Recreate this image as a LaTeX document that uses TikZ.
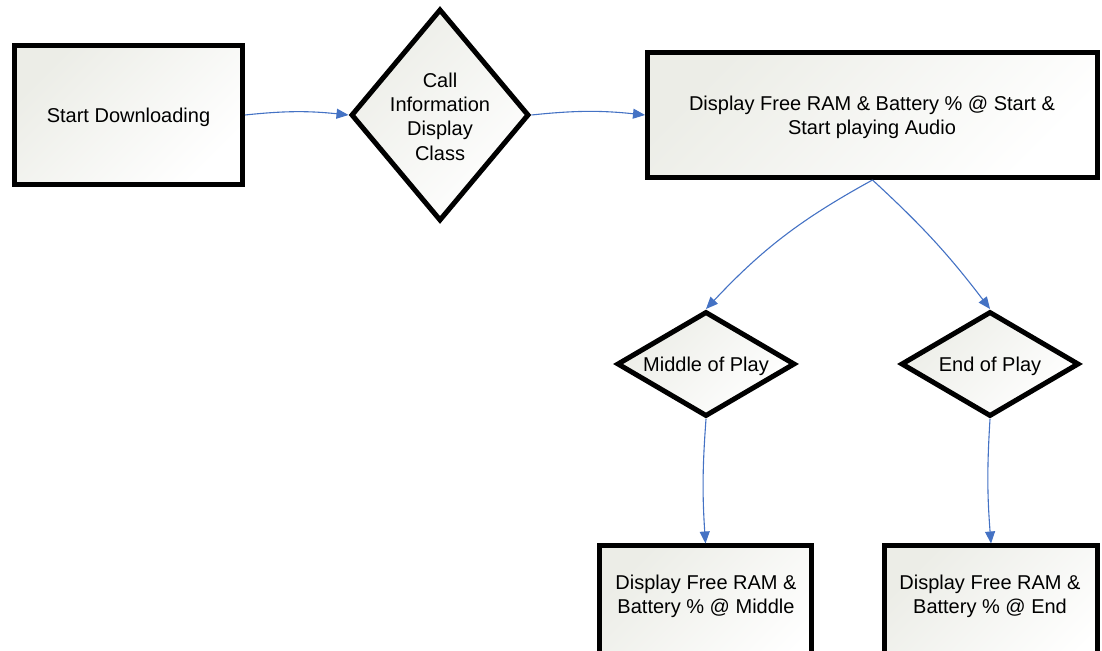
\documentclass[tikz,border=0pt]{standalone}
\usepackage{fontspec}
\setmainfont{Liberation Sans}
\usetikzlibrary{shapes.geometric,arrows.meta}
\definecolor{fillc}{RGB}{236,237,231}
\definecolor{linkc}{RGB}{68,114,196}
\tikzset{
  shapebase/.style={draw=black, line width=5pt, inner sep=0pt,
    top color=fillc, bottom color=white, shading angle=45},
  procbox/.style={shapebase, rectangle},
  choice/.style={shapebase, diamond},
  label txt/.style={align=center, inner sep=0pt, yshift=-2pt,
    font=\fontsize{20}{24.3}\selectfont},
  link/.style={draw=linkc, line width=1.1pt,
    -{Triangle[length=12pt,width=10pt]}},
}
\begin{document}
\begin{tikzpicture}[x=1pt,y=1pt]
  \useasboundingbox (0,0) rectangle (1102,650);
  \begin{scope}
    \clip (0,0) rectangle (1102,650);

    % top row
    \node[procbox, minimum width=228pt, minimum height=139pt] (b1) at (128.5,535) {};
    \node[label txt] (t1) at (b1.center) {Start Downloading};

    \node[choice, minimum width=178pt, minimum height=212pt] (d1) at (440,535) {};
    \node[label txt] (td1) at (440,535.5) {Call\\Information\\Display\\Class};

    \node[procbox, minimum width=450pt, minimum height=125pt] (b2) at (872.5,535) {};
    \node[label txt] (t2) at (872,535) {Display Free RAM \& Battery \% @ Start \&\\Start playing Audio};

    % checkpoints
    \node[choice, minimum width=178pt, minimum height=105pt] (dm) at (706,286) {};
    \node[label txt] (tdm) at (dm.center) {Middle of Play};

    \node[choice, minimum width=178pt, minimum height=105pt] (de) at (990,286) {};
    \node[label txt] (tde) at (de.center) {End of Play};

    % bottom row (runs past the lower edge)
    \node[procbox, anchor=north, minimum width=212pt, minimum height=140pt] (b3) at (705.5,106.5) {};
    \node[label txt] (t3) at (706,56) {Display Free RAM \&\\Battery \% @ Middle};

    \node[procbox, anchor=north, minimum width=213pt, minimum height=140pt] (b4) at (991,106.5) {};
    \node[label txt] (t4) at (990,56) {Display Free RAM \&\\Battery \% @ End};
  \end{scope}

  % connectors
  \draw[link] (b1.east) to[bend left=6] (d1.west);
  \draw[link] (d1.east) to[bend left=6] (b2.west);
  \draw[link] (b2.south) to[bend right=9] (dm.north);
  \draw[link] (b2.south) to[bend left=5] (de.north);
  \draw[link] (dm.south) to[bend right=4] (b3.north);
  \draw[link] (de.south) to[bend right=4] (b4.north);
\end{tikzpicture}
\end{document}
